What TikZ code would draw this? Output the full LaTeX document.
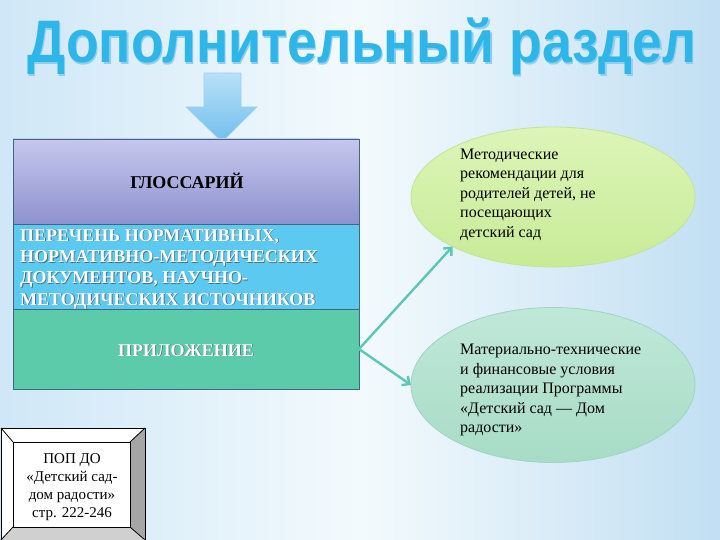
\documentclass[tikz,border=0pt]{standalone}
\usepackage{fontspec}
\setmainfont{Liberation Serif}
\newfontfamily\titlefont{Liberation Sans}
\usetikzlibrary{arrows.meta,shapes.geometric}
\definecolor{bgL}{HTML}{CFE7F7}
\definecolor{bgM}{HTML}{F3FAFD}
\definecolor{bgR}{HTML}{C2DFF3}
\definecolor{ttl}{HTML}{2DB6E7}
\definecolor{ttlD}{HTML}{8CCFEE}
\definecolor{purT}{HTML}{C6C7ED}
\definecolor{purB}{HTML}{8E92CF}
\definecolor{secblue}{HTML}{5CC9F0}
\definecolor{secgreen}{HTML}{5CCBA9}
\definecolor{secline}{HTML}{3F6785}
\definecolor{arrT}{HTML}{B8E0F8}
\definecolor{arrB}{HTML}{72BFEC}
\definecolor{arrLine}{HTML}{9CD2F2}
\definecolor{ellAT}{HTML}{DDF5B8}
\definecolor{ellAB}{HTML}{C8EB97}
\definecolor{ellAline}{HTML}{C0E496}
\definecolor{ellBT}{HTML}{C0E8D8}
\definecolor{ellBB}{HTML}{A8DCC7}
\definecolor{ellBline}{HTML}{9FD4C2}
\definecolor{conncol}{HTML}{5CC7B6}
\definecolor{shadowc}{HTML}{4E6E80}
\definecolor{bevR}{HTML}{A6A6A6}
\definecolor{bevB}{HTML}{D0D0D0}
\begin{document}
\begin{tikzpicture}[x=1pt,y=-1pt,
  sec/.style={draw=secline, line width=0.6pt, inner sep=0pt, outer sep=0pt, minimum width=346pt, anchor=north west},
  boxtext/.style={font=\fontsize{18}{21.3}\selectfont\bfseries, inner sep=0pt},
  whitetxt/.style={boxtext, text=white},
  shadowtxt/.style={boxtext, text=shadowc},
  ell/.style={ellipse, inner sep=0pt, outer sep=0pt, minimum width=284pt, line width=0.8pt},
  etext/.style={font=\fontsize{16}{19.5}\selectfont, align=left, inner sep=0pt, anchor=north west},
  connector/.style={draw=conncol, line width=2.4pt, -{Straight Barb[length=6pt,width=11pt]}},
  bevel/.style={draw=black, line width=0.8pt, line join=miter}]
\useasboundingbox (0,0) rectangle (720,540);
\shade[left color=bgL, right color=bgR, middle color=bgM] (0,0) rectangle (720,540);
% title
\node[anchor=base, text=ttlD, inner sep=0pt] (titleS) at (363.3,64.3) {\titlefont\bfseries\fontsize{60}{60}\selectfont\scalebox{0.89}[1]{Дополнительный раздел}};
\node[anchor=base, text=ttl, inner sep=0pt] (title) at (362,63) {\titlefont\bfseries\fontsize{60}{60}\selectfont\scalebox{0.89}[1]{Дополнительный раздел}};
% down arrow
\shade[top color=arrT, bottom color=arrB, draw=arrLine, line width=0.6pt]
  (204,73) -- (241,73) -- (241,107) -- (257,107) -- (222,142) -- (186,107) -- (204,107) -- cycle;
% left box sections
\node[sec, minimum height=85pt, top color=purT, bottom color=purB] (gl) at (13,139) {};
\node[sec, minimum height=85pt, fill=secblue] (doc) at (13,224) {};
\node[sec, minimum height=80pt, fill=secgreen] (app) at (13,309) {};
\node[boxtext, anchor=base] (glT) at (187,189) {ГЛОССАРИЙ};
\node[shadowtxt, anchor=north west, align=left] (docS) at (20.8,229.8) {ПЕРЕЧЕНЬ НОРМАТИВНЫХ,\\НОРМАТИВНО-МЕТОДИЧЕСКИХ\\ДОКУМЕНТОВ, НАУЧНО-\\МЕТОДИЧЕСКИХ ИСТОЧНИКОВ};
\node[whitetxt, anchor=north west, align=left] (docT) at (20,229) {ПЕРЕЧЕНЬ НОРМАТИВНЫХ,\\НОРМАТИВНО-МЕТОДИЧЕСКИХ\\ДОКУМЕНТОВ, НАУЧНО-\\МЕТОДИЧЕСКИХ ИСТОЧНИКОВ};
\node[shadowtxt, anchor=base] (appS) at (186.8,356.8) {ПРИЛОЖЕНИЕ};
\node[whitetxt, anchor=base] (appT) at (186,356) {ПРИЛОЖЕНИЕ};
% ellipses
\node[ell, minimum height=140pt, draw=ellAline, top color=ellAT, bottom color=ellAB] (e1) at (553,197) {};
\node[ell, minimum height=155pt, draw=ellBline, top color=ellBT, bottom color=ellBB] (e2) at (553,385) {};
\node[etext] (e1T) at (460,148.5) {Методические\\рекомендации для\\родителей детей, не\\посещающих\\детский сад};
\node[etext] (e2T) at (460,344) {Материально-технические\\и финансовые условия\\реализации Программы\\«Детский сад — Дом\\радости»};
% connectors
\draw[connector] (app.east) -- (e1.south west);
\draw[connector] (app.east) -- (e2.west);
% bevel box
\fill[white] (1,428) -- (145,428) -- (130,442) -- (13,442) -- cycle;
\fill[white] (1,428) -- (13,442) -- (13,527) -- (1,540) -- cycle;
\fill[bevR] (145,428) -- (145,540) -- (130,527) -- (130,442) -- cycle;
\fill[bevB] (1,540) -- (145,540) -- (130,527) -- (13,527) -- cycle;
\draw[bevel] (1,428) rectangle (145,540);
\draw[bevel] (1,428) -- (13,442) (145,428) -- (130,442) (145,540) -- (130,527) (1,540) -- (13,527);
\node[bevel, fill=white, inner sep=0pt, minimum width=117pt, minimum height=85pt, anchor=north west] (pop) at (13,442) {};
\node[inner sep=0pt, align=center, font=\fontsize{15}{18}\selectfont] (popT) at (72,487.5) {ПОП ДО\\«Детский сад-\\дом радости»\\стр. 222-246};
\end{tikzpicture}
\end{document}
